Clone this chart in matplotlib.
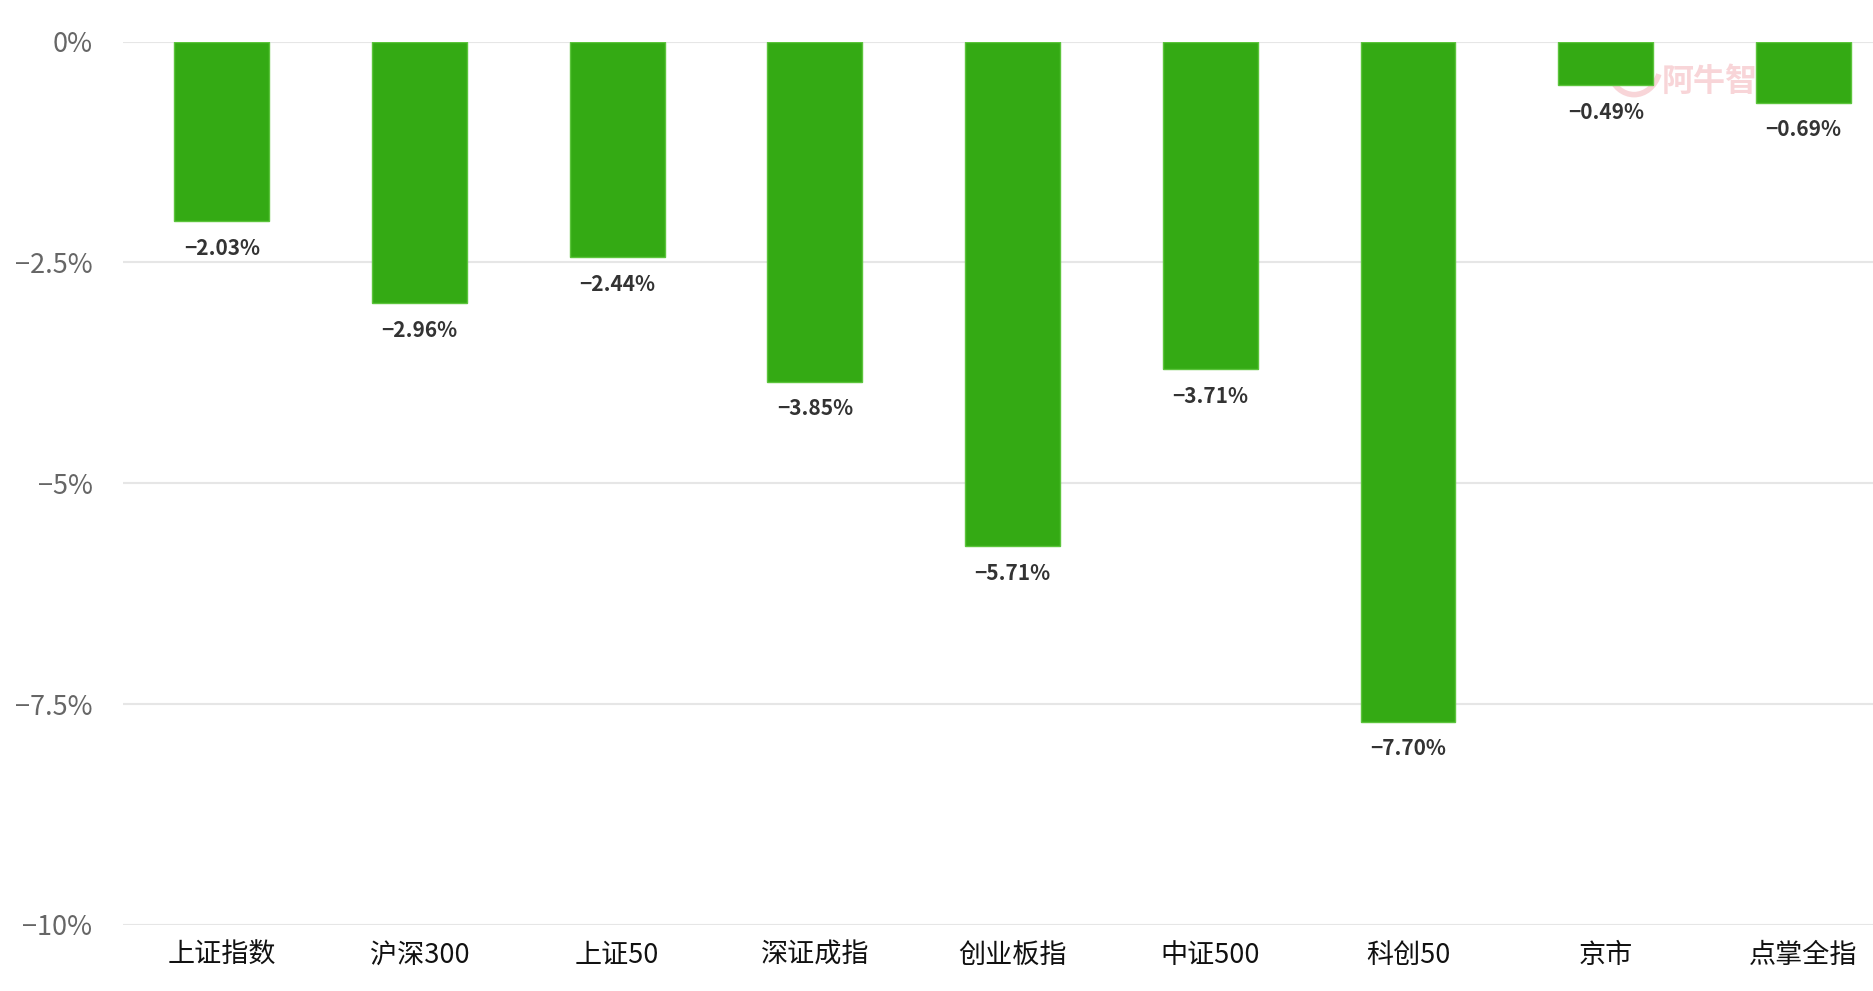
import matplotlib.pyplot as plt
import numpy as np
from matplotlib.patches import Arc

plt.rcParams['font.family'] = ['Noto Sans CJK SC', 'DejaVu Sans']
plt.rcParams['axes.unicode_minus'] = True

# 指数区间涨跌幅
names = ['上证指数', '沪深300', '上证50', '深证成指', '创业板指', '中证500', '科创50', '京市', '点掌全指']
changes = [-2.03, -2.96, -2.44, -3.85, -5.71, -3.71, -7.70, -0.49, -0.69]
yticks = [0, -2.5, -5, -7.5, -10]
ytick_labels = ['0%', '−2.5%', '−5%', '−7.5%', '−10%']

fig = plt.figure(figsize=(18.74, 9.91), dpi=100)
ax = fig.add_axes([0.0656, 0.0666, 0.9344, 0.8914])

x = np.arange(len(names))
bars = ax.bar(x, changes, width=0.48, color='#34aa14', edgecolor='#5cc43c',
              linewidth=1, zorder=3)

# 数值标签
for xi, v in zip(x, changes):
    ax.annotate(f'−{abs(v):.2f}%', (xi, v), xytext=(0, -12), textcoords='offset points',
                ha='center', va='top', fontsize=15, color='#333333', fontweight='bold')

# 水印
ax.text(0.879, 0.955, '阿牛智投', transform=ax.transAxes, fontsize=23,
        color='#f8d5d8', ha='left', va='center', zorder=1, fontweight='bold')
ax.add_patch(Arc((0.863, 0.975), 0.03, 0.07, theta1=220, theta2=320,
                 transform=ax.transAxes, color='#f8d5d8', linewidth=4, zorder=1))

ax.set_xlim(-0.5, 8.357)
ax.set_ylim(-10, 0)
ax.set_yticks(yticks)
ax.set_yticklabels(ytick_labels, fontsize=19.5, color='#666666')
ax.set_xticks(x)
ax.set_xticklabels(names, fontsize=19.5, color='#111111')
ax.tick_params(axis='both', length=0)
ax.tick_params(axis='y', pad=22)
ax.tick_params(axis='x', pad=12)
ax.grid(axis='y', color='#e6e6e6', linewidth=1.5, zorder=0)
for s in ax.spines.values():
    s.set_visible(False)

fig.savefig('out.png', dpi=100, facecolor='white')
